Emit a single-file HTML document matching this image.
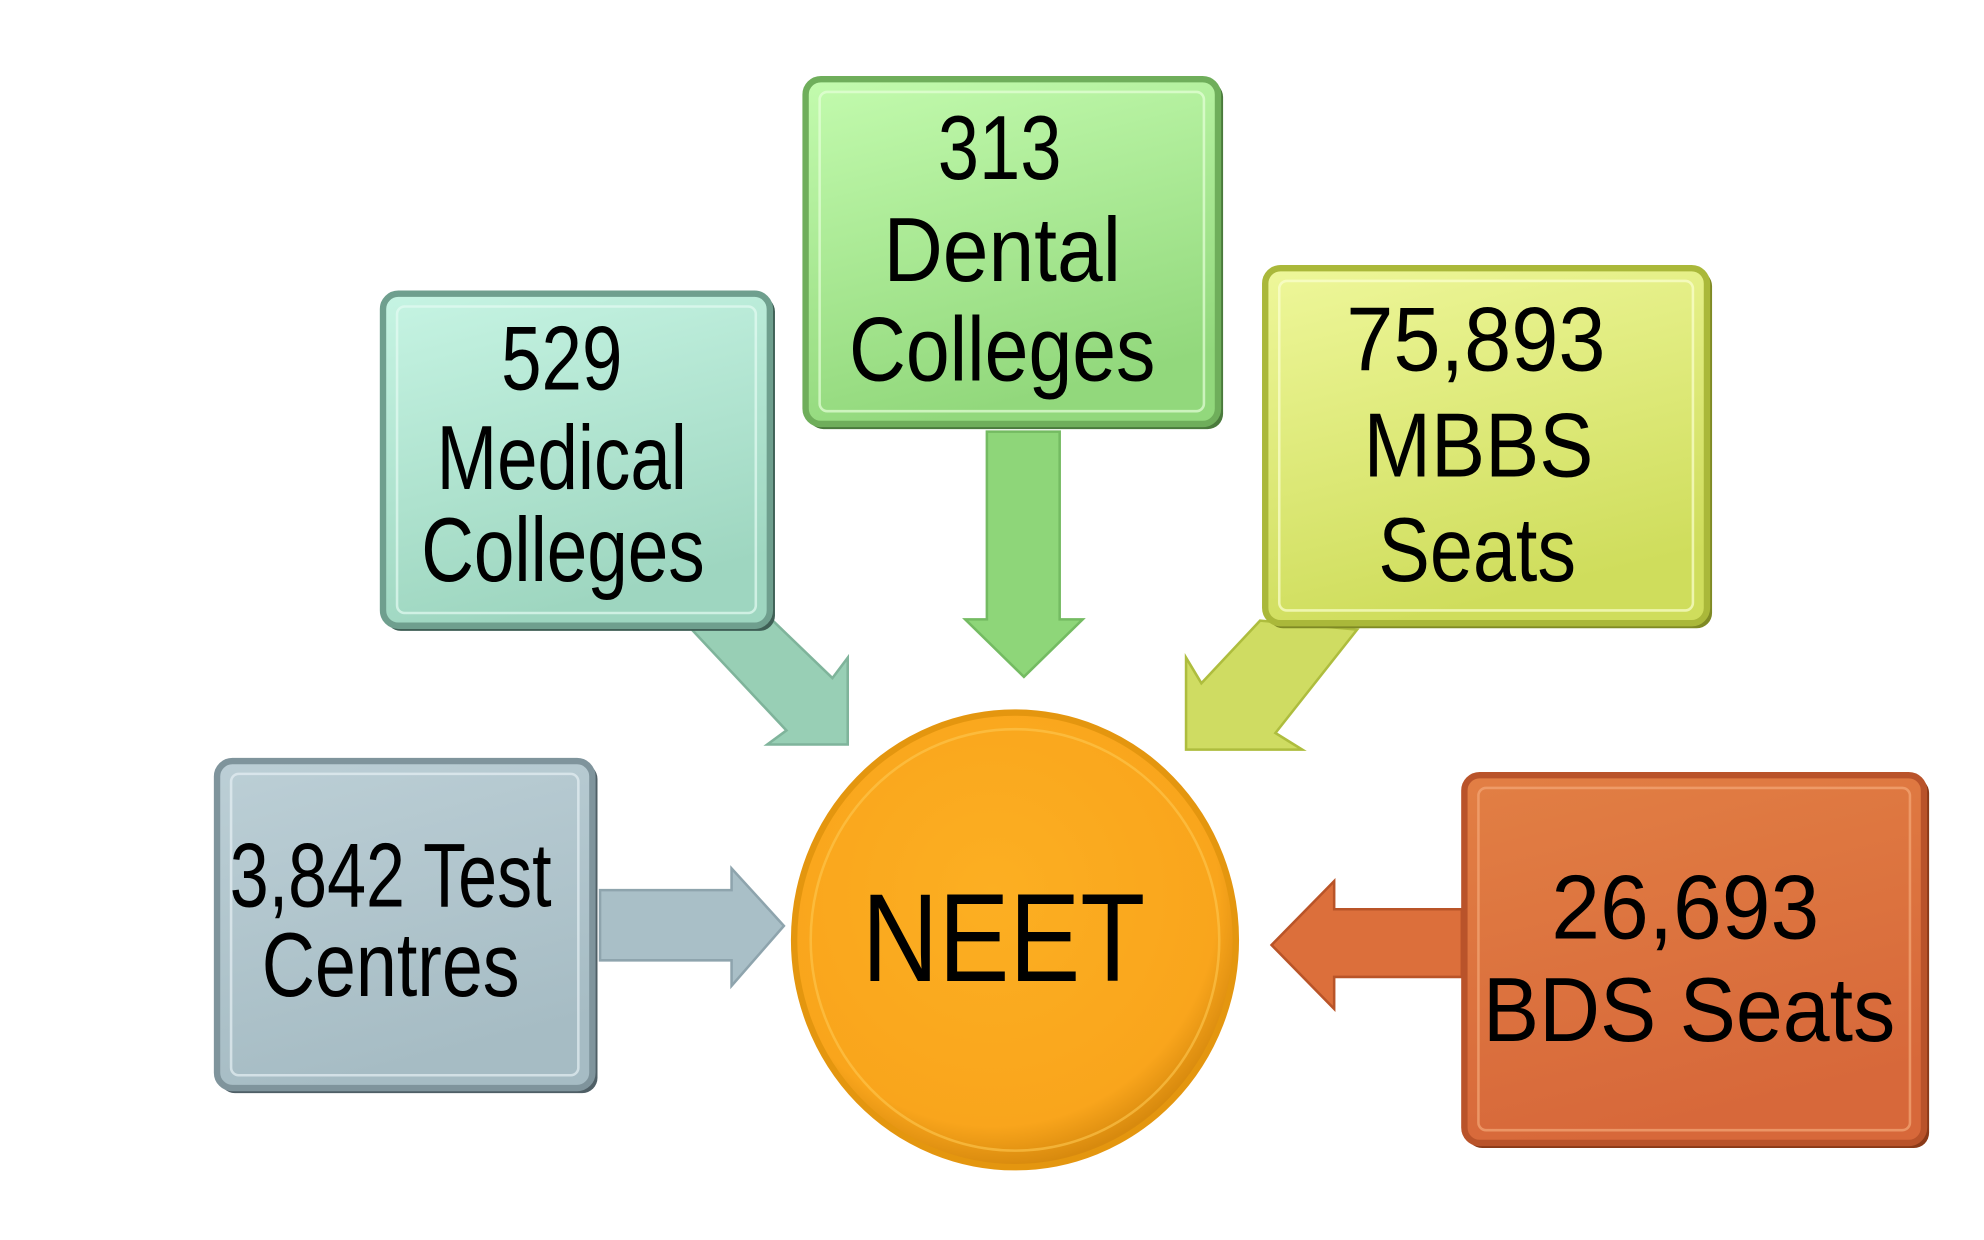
<!DOCTYPE html>
<html><head><meta charset="utf-8"><style>html,body{margin:0;padding:0;background:#fff}svg{display:block}</style></head>
<body>
<svg width="1984" height="1240" viewBox="0 0 1554 971" preserveAspectRatio="none" xmlns="http://www.w3.org/2000/svg" font-family="'Liberation Sans', sans-serif">
<defs>
<linearGradient id="gm" x1="0" y1="0" x2="0.3" y2="1"><stop offset="0" stop-color="#c6f4e3"/><stop offset="1" stop-color="#9ed6c0"/></linearGradient>
<linearGradient id="gd" x1="0" y1="0" x2="0.3" y2="1"><stop offset="0" stop-color="#c3fbae"/><stop offset="1" stop-color="#92d87c"/></linearGradient>
<linearGradient id="gb" x1="0" y1="0" x2="0.3" y2="1"><stop offset="0" stop-color="#eef79a"/><stop offset="1" stop-color="#cfdd5c"/></linearGradient>
<linearGradient id="gt" x1="0" y1="0" x2="0.3" y2="1"><stop offset="0" stop-color="#bccfd6"/><stop offset="1" stop-color="#a6bcc4"/></linearGradient>
<linearGradient id="go" x1="0" y1="0" x2="0.3" y2="1"><stop offset="0" stop-color="#e27f44"/><stop offset="1" stop-color="#d7683a"/></linearGradient>
<radialGradient id="gc" cx="0.45" cy="0.4" r="0.6"><stop offset="0" stop-color="#fcaf22"/><stop offset="0.85" stop-color="#f9a51c"/><stop offset="1" stop-color="#d88a0e"/></radialGradient>
</defs>

<!-- arrows -->
<polygon points="540,491 597,478 652,531 664,515 664,583 601,583 616,572" fill="#98cfb5" stroke="#7fb49b" stroke-width="2"/>
<polygon points="773,338 830,338 830,485 848,485 802,530 756,485 773,485" fill="#8ed679" stroke="#74bb62" stroke-width="2"/>
<polygon points="987,486 1063,493 999,574 1020,587 929,587 929,515 941,535" fill="#cfdc62" stroke="#aebd3e" stroke-width="2"/>
<polygon points="470,697 573,697 573,680 614,725 573,772 573,752 470,752" fill="#a9bfc7" stroke="#8ea4ad" stroke-width="2"/>
<polygon points="1145,712 1045,712 1045,690 996,740 1045,790 1045,765 1145,765" fill="#dc6f3b" stroke="#b95428" stroke-width="2"/>

<!-- box shadows -->
<rect x="302" y="232" width="305" height="262" rx="12" fill="#3f5f55"/>
<rect x="633" y="64" width="325" height="272" rx="12" fill="#4a7a3c"/>
<rect x="993" y="212" width="348" height="280" rx="12" fill="#7f8a25"/>
<rect x="172" y="598" width="296" height="258" rx="12" fill="#4f5f66"/>
<rect x="1149" y="609" width="362" height="290" rx="12" fill="#8a3a18"/>

<!-- boxes -->
<rect x="300" y="230" width="303" height="260" rx="12" fill="url(#gm)" stroke="#6f9f8e" stroke-width="5"/>
<rect x="311" y="240" width="281" height="240" rx="6" fill="none" stroke="#e4fbf2" stroke-width="2" opacity="0.7"/>
<rect x="631" y="62" width="323" height="270" rx="12" fill="url(#gd)" stroke="#6fae5b" stroke-width="5"/>
<rect x="642" y="72" width="301" height="250" rx="6" fill="none" stroke="#e6ffd9" stroke-width="2" opacity="0.7"/>
<rect x="991" y="210" width="346" height="278" rx="12" fill="url(#gb)" stroke="#aab83a" stroke-width="5"/>
<rect x="1002" y="220" width="324" height="258" rx="6" fill="none" stroke="#fbffd0" stroke-width="2" opacity="0.7"/>
<rect x="170" y="596" width="294" height="256" rx="12" fill="url(#gt)" stroke="#7f949c" stroke-width="5"/>
<rect x="181" y="606" width="272" height="236" rx="6" fill="none" stroke="#e6f0f3" stroke-width="2" opacity="0.7"/>
<rect x="1147" y="607" width="360" height="288" rx="12" fill="url(#go)" stroke="#b9532a" stroke-width="5"/>
<rect x="1158" y="617" width="338" height="268" rx="6" fill="none" stroke="#f3a877" stroke-width="2" opacity="0.7"/>

<!-- circle -->
<ellipse cx="795" cy="736" rx="173" ry="178" fill="url(#gc)" stroke="#e4960f" stroke-width="5"/>
<ellipse cx="795" cy="736" rx="160" ry="165" fill="none" stroke="#fdc850" stroke-width="2" opacity="0.6"/>

<!-- text -->
<g fill="#000" font-size="71" text-anchor="middle">
<text x="440" y="305" textLength="95" lengthAdjust="spacingAndGlyphs">529</text>
<text x="440" y="383" textLength="196" lengthAdjust="spacingAndGlyphs">Medical</text>
<text x="441" y="455" textLength="222" lengthAdjust="spacingAndGlyphs">Colleges</text>
<text x="783" y="140" textLength="97" lengthAdjust="spacingAndGlyphs">313</text>
<text x="785" y="220" textLength="186" lengthAdjust="spacingAndGlyphs">Dental</text>
<text x="785" y="298" textLength="240" lengthAdjust="spacingAndGlyphs">Colleges</text>
<text x="1156" y="290" textLength="203" lengthAdjust="spacingAndGlyphs">75,893</text>
<text x="1158" y="373" textLength="180" lengthAdjust="spacingAndGlyphs">MBBS</text>
<text x="1157" y="455" textLength="155" lengthAdjust="spacingAndGlyphs">Seats</text>
<text x="306" y="710" textLength="252" lengthAdjust="spacingAndGlyphs">3,842 Test</text>
<text x="306" y="780" textLength="202" lengthAdjust="spacingAndGlyphs">Centres</text>
<text x="1320" y="735" textLength="210" lengthAdjust="spacingAndGlyphs">26,693</text>
<text x="1323" y="815" textLength="323" lengthAdjust="spacingAndGlyphs">BDS Seats</text>
<text x="786" y="768" font-size="98" textLength="222" lengthAdjust="spacingAndGlyphs">NEET</text>
</g>
</svg>
</body></html>
